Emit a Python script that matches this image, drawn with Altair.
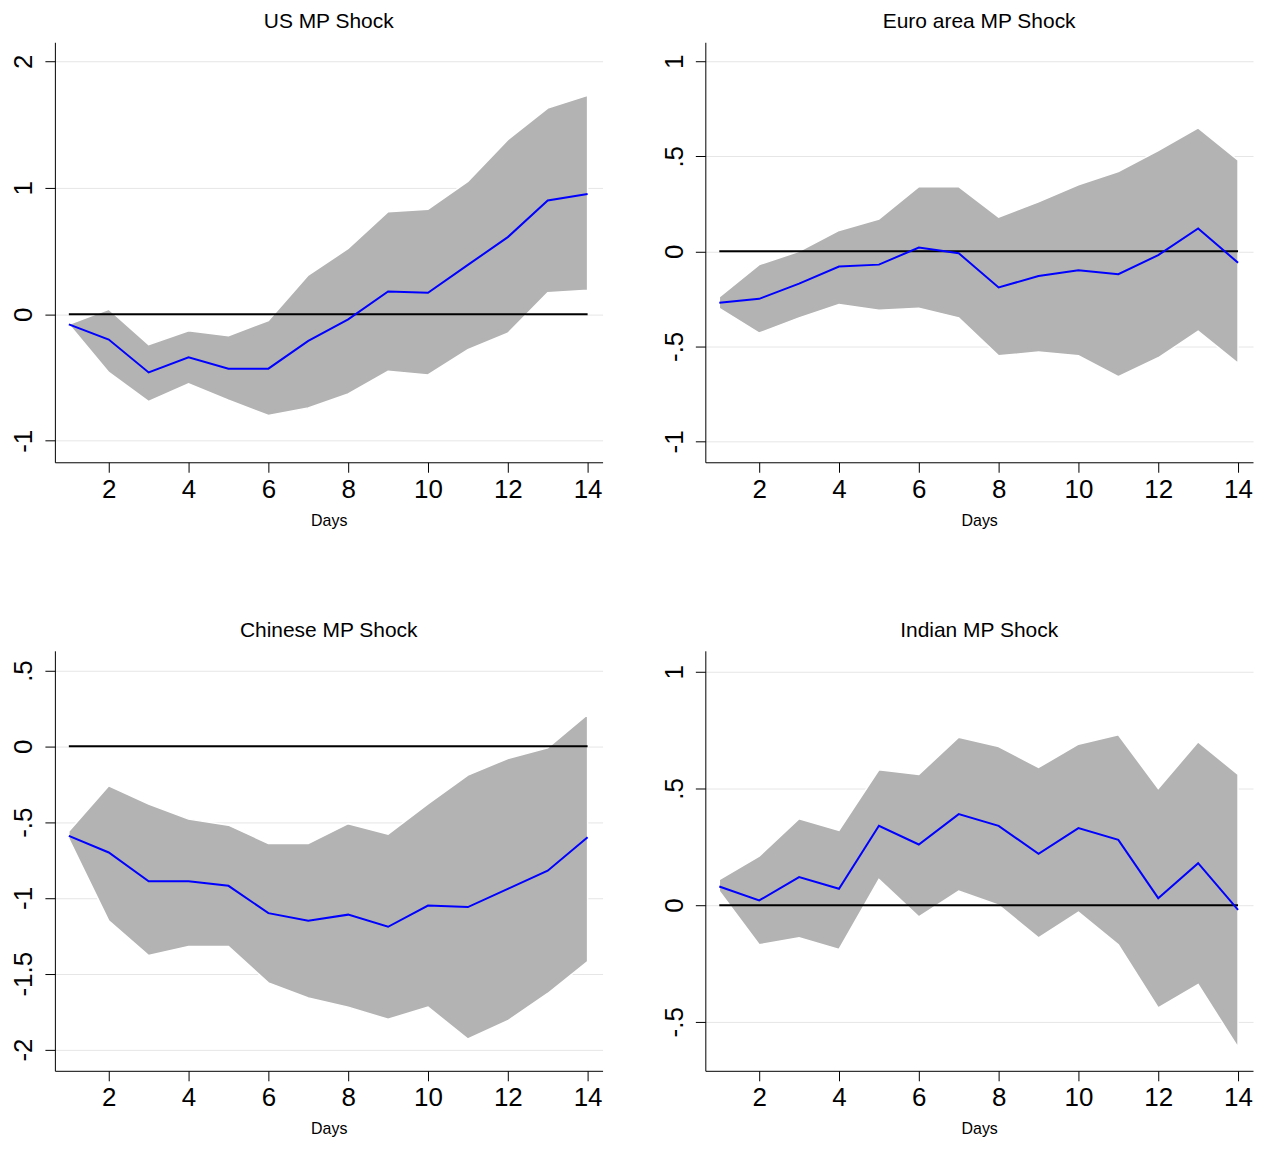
import altair as alt
import pandas as pd

days = list(range(1, 15))

us_irf = [-0.08,-0.2,-0.46,-0.34,-0.43,-0.43,-0.21,-0.04,0.18,0.17,0.39,0.61,0.9,0.95]
us_hi = [-0.08,0.04,-0.24,-0.13,-0.17,-0.05,0.31,0.52,0.81,0.83,1.05,1.38,1.63,1.73]
us_lo = [-0.08,-0.46,-0.69,-0.55,-0.68,-0.8,-0.74,-0.63,-0.45,-0.48,-0.28,-0.15,0.17,0.19]

ea_irf = [-0.27,-0.25,-0.17,-0.08,-0.07,0.02,-0.01,-0.19,-0.13,-0.1,-0.12,-0.02,0.12,-0.06]
ea_hi = [-0.24,-0.07,0.0,0.11,0.17,0.34,0.34,0.18,0.26,0.35,0.42,0.53,0.65,0.48]
ea_lo = [-0.3,-0.43,-0.35,-0.28,-0.31,-0.3,-0.35,-0.55,-0.53,-0.55,-0.66,-0.56,-0.42,-0.59]

cn_irf = [-0.59,-0.7,-0.89,-0.89,-0.92,-1.1,-1.15,-1.11,-1.19,-1.05,-1.06,-0.94,-0.82,-0.6]
cn_hi = [-0.56,-0.26,-0.38,-0.48,-0.52,-0.64,-0.64,-0.51,-0.58,-0.38,-0.19,-0.08,-0.01,0.21]
cn_lo = [-0.61,-1.15,-1.38,-1.32,-1.32,-1.56,-1.66,-1.72,-1.8,-1.72,-1.93,-1.81,-1.63,-1.42]

in_irf = [0.08,0.02,0.12,0.07,0.34,0.26,0.39,0.34,0.22,0.33,0.28,0.03,0.18,-0.02]
in_hi = [0.11,0.21,0.37,0.32,0.58,0.56,0.72,0.68,0.59,0.69,0.73,0.5,0.7,0.56]
in_lo = [0.06,-0.17,-0.14,-0.19,0.11,-0.05,0.06,0.0,-0.14,-0.03,-0.17,-0.44,-0.34,-0.61]

FONT = "Liberation Sans"
LABEL_EXPR = ("datum.value == -0.5 ? '-.5' : datum.value == 0.5 ? '.5' : "
              "datum.value == -1.5 ? '-1.5' : datum.value < 0 ? '-' + format(-datum.value, 'd') : "
              "format(datum.value, 'd')")

def panel(title, irf, hi, lo, ydom, yticks):
    df = pd.DataFrame({"day": days, "irf": irf, "hi": hi, "lo": lo})
    x = alt.X("day:Q", scale=alt.Scale(domain=[0.65, 14.375], nice=False, zero=False),
              axis=alt.Axis(values=[2,4,6,8,10,12,14], title="Days", grid=False,
                            labelFontSize=26, titleFontSize=16, titleFontWeight="normal",
                            labelFont=FONT, titleFont=FONT, titlePadding=10,
                            domainColor="black", tickColor="black", labelColor="black",
                            tickSize=10, labelPadding=4))
    yscale = alt.Scale(domain=ydom, nice=False, zero=False)
    yaxis = alt.Axis(values=yticks, title=None, labelAngle=-90, labelFontSize=26,
                     labelFont=FONT, labelAlign="center", labelBaseline="bottom",
                     labelExpr=LABEL_EXPR, gridColor="#e6e6e6", domainColor="black",
                     tickColor="black", labelColor="black", labelPadding=8, tickSize=10,
                     labelOverlap=False, labelBound=False)
    band = alt.Chart(df).mark_area(color="#b3b3b3", opacity=1, stroke="white", strokeWidth=1.5).encode(
        x=x, y=alt.Y("lo:Q", scale=yscale, axis=yaxis), y2="hi:Q")
    zero = alt.Chart(pd.DataFrame({"day": [1, 14], "z": [0, 0]})).mark_line(color="black", strokeWidth=2).encode(
        x="day:Q", y="z:Q")
    line = alt.Chart(df).mark_line(color="#0000ff", strokeWidth=2).encode(x="day:Q", y="irf:Q")
    return alt.layer(band, zero, line).properties(
        width=549, height=421,
        title=alt.TitleParams(title, font=FONT, fontSize=21, fontWeight="normal", color="black", offset=10))

p1 = panel("US MP Shock", us_irf, us_hi, us_lo, [-1.17, 2.15], [-1, 0, 1, 2])
p2 = panel("Euro area MP Shock", ea_irf, ea_hi, ea_lo, [-1.11, 1.1], [-1, -0.5, 0, 0.5, 1])
p3 = panel("Chinese MP Shock", cn_irf, cn_hi, cn_lo, [-2.14, 0.63], [-2, -1.5, -1, -0.5, 0, 0.5])
p4 = panel("Indian MP Shock", in_irf, in_hi, in_lo, [-0.71, 1.09], [-0.5, 0, 0.5, 1])

chart = alt.vconcat(
    alt.hconcat(p1, p2, spacing=58),
    alt.hconcat(p3, p4, spacing=58),
    spacing=92,
).properties(padding={"left": 2, "top": 2, "right": 5, "bottom": 5}
).configure(background="white").configure_view(stroke=None, strokeWidth=0)

chart.save("out.html", embed_options={"renderer": "svg", "actions": False})
